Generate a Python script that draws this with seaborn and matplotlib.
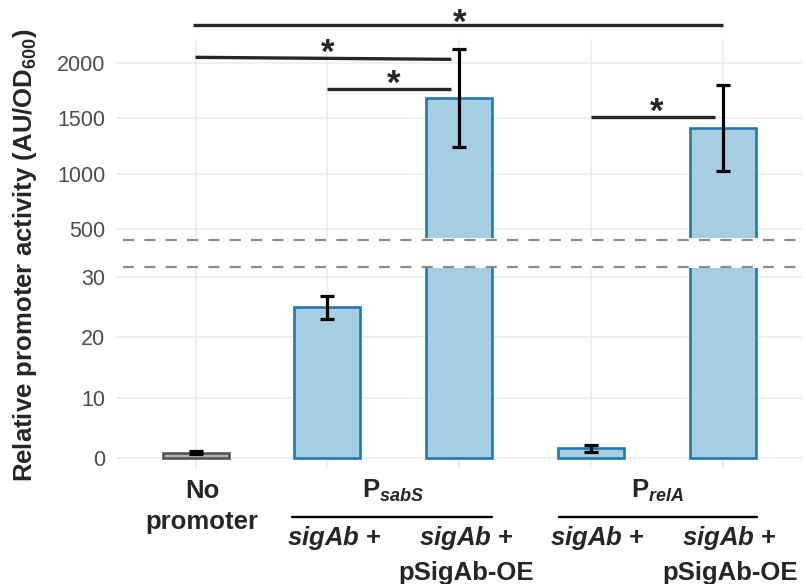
import numpy as np
import pandas as pd
import matplotlib
matplotlib.use("Agg")
import matplotlib.pyplot as plt
import seaborn as sns
from matplotlib.lines import Line2D
from matplotlib.transforms import blended_transform_factory

# ---------------- data ----------------
categories = ["No promoter", "PsabS sigAb+", "PsabS sigAb+ pSigAb-OE",
              "PrelA sigAb+", "PrelA sigAb+ pSigAb-OE"]
values = [0.9, 25.0, 1678, 1.65, 1412]
errors = [0.25, 1.9, 441, 0.6, 383]
fill_colors = ["#b3b3b3", "#a6cee3", "#a6cee3", "#a6cee3", "#a6cee3"]
edge_colors = ["#555555", "#1f78b4", "#1f78b4", "#1f78b4", "#1f78b4"]

lower_ticks = [0, 10, 20, 30]
upper_ticks = [500, 1000, 1500, 2000]
lower_limits = (-1.6, 31.5)
upper_limits = (422, 2213)

# significance brackets (upper-panel data units)
bracket_x0 = [-0.02, 0.0, 1.0, 3.0]
bracket_x1 = [4.0, 1.94, 1.94, 3.94]
bracket_y0 = [2339, 2048, 1763, 1511]
bracket_y1 = [2339, 2030, 1763, 1511]
star_x = [2.0, 1.0, 1.5, 3.5]
star_y = [2447, 2177, 1898, 1646]

group_labels = [r"P$_{\mathbfit{sabS}}$", r"P$_{\mathbfit{relA}}$"]
group_centers = [1.5, 3.5]
group_span_start = [0.73, 2.755]
group_span_end = [2.25, 4.26]
sub_line1 = [r"$\mathbfit{sigAb}$ +"] * 4
sub_line1_x = [1, 2, 3, 4]
sub_line2 = ["pSigAb-OE", "pSigAb-OE"]
sub_line2_x = [2, 4]

ylabel = r"Relative promoter activity (AU/OD$_{\mathbf{600}}$)"

# ---------------- style ----------------
sns.set_style("white")
plt.rcParams["font.family"] = ["Liberation Sans", "DejaVu Sans"]
plt.rcParams["mathtext.fontset"] = "custom"
plt.rcParams["mathtext.rm"] = "Liberation Sans"
plt.rcParams["mathtext.it"] = "Liberation Sans:italic"
plt.rcParams["mathtext.bf"] = "Liberation Sans:bold"
plt.rcParams["mathtext.bfit"] = "Liberation Sans:italic:bold"

W, H = 806, 584
fig = plt.figure(figsize=(W / 100, H / 100), dpi=100)
left, right = 116.4 / W, 802.2 / W
ax_up = fig.add_axes([left, 1 - 238 / H, right - left, (238 - 39) / H])
ax_lo = fig.add_axes([left, 1 - 468 / H, right - left, (468 - 268) / H])

df = pd.DataFrame({"category": categories, "value": values})
grid_c = "#ebebeb"

for ax, lims, ticks in [(ax_up, upper_limits, upper_ticks),
                        (ax_lo, lower_limits, lower_ticks)]:
    sns.barplot(data=df, x="category", y="value", hue="category",
                order=categories, hue_order=categories, palette=fill_colors,
                saturation=1, width=0.5, errorbar=None, legend=False,
                linewidth=1.9, ax=ax)
    for patch, ec in zip(ax.patches, edge_colors):
        patch.set_edgecolor(ec)
        patch.set_linewidth(1.9)
    ax.errorbar(range(len(values)), values, yerr=errors, fmt="none",
                ecolor="black", elinewidth=2.3, capsize=4.7, capthick=2.3,
                zorder=4)
    ax.set_xlim(-0.6, 4.6)
    ax.set_ylim(*lims)
    ax.set_yticks(ticks)
    ax.set_xticks(range(len(categories)))
    ax.set_xticklabels([""] * len(categories))
    ax.set_xlabel("")
    ax.set_ylabel("")
    ax.set_axisbelow(True)
    ax.grid(True, color=grid_c, linewidth=1.1)
    for s in ax.spines.values():
        s.set_visible(False)
    ax.tick_params(axis="both", length=0)
    ax.tick_params(axis="y", pad=8, labelsize=15.5, labelcolor="#4d4d4d")
    ax.patch.set_alpha(0)

# broken-axis dashed lines
for ypx in [240, 267]:
    fig.add_artist(Line2D([123 / W, 802 / W], [1 - ypx / H, 1 - ypx / H],
                          transform=fig.transFigure, color="#8c8c8c",
                          lw=1.6, linestyle=(0, (5, 4.6))))

# significance brackets
for x0, x1, y0, y1 in zip(bracket_x0, bracket_x1, bracket_y0, bracket_y1):
    ax_up.plot([x0, x1], [y0, y1], color="#262626", lw=2.4, clip_on=False,
               solid_capstyle="butt", zorder=5)
star_fs = 25
for sx, sy in zip(star_x, star_y):
    ax_up.annotate("*", xy=(sx, sy), xytext=(0, -0.58 * star_fs),
                   textcoords="offset points", ha="center", va="baseline",
                   fontsize=star_fs, fontweight="bold", annotation_clip=False)

# x labels
tr = blended_transform_factory(ax_lo.transData, fig.transFigure)
lab_fs = 18.5
dx = 0.05
ax_lo.text(0 + dx, 1 - 497.5 / H, "No", transform=tr, ha="center",
           va="baseline", fontsize=lab_fs, fontweight="bold")
ax_lo.text(0 + dx, 1 - 528.5 / H, "promoter", transform=tr, ha="center",
           va="baseline", fontsize=lab_fs, fontweight="bold")
for lab, cx, s0, s1 in zip(group_labels, group_centers, group_span_start,
                           group_span_end):
    ax_lo.text(cx, 1 - 497.5 / H, lab, transform=tr, ha="center",
               va="baseline", fontsize=lab_fs, fontweight="bold")
    ax_lo.add_line(Line2D([s0, s1], [1 - 517 / H, 1 - 517 / H], transform=tr,
                          color="black", lw=1.7, clip_on=False))
for lab, cx in zip(sub_line1, sub_line1_x):
    ax_lo.text(cx + dx, 1 - 545 / H, lab, transform=tr, ha="center",
               va="baseline", fontsize=lab_fs, fontweight="bold")
for lab, cx in zip(sub_line2, sub_line2_x):
    ax_lo.text(cx + dx, 1 - 580 / H, lab, transform=tr, ha="center",
               va="baseline", fontsize=lab_fs, fontweight="bold")

fig.text(25 / W, 1 - 255 / H, ylabel, rotation=90, ha="center", va="center",
         fontsize=18.5, fontweight="bold")

fig.savefig("out.png", dpi=100)
